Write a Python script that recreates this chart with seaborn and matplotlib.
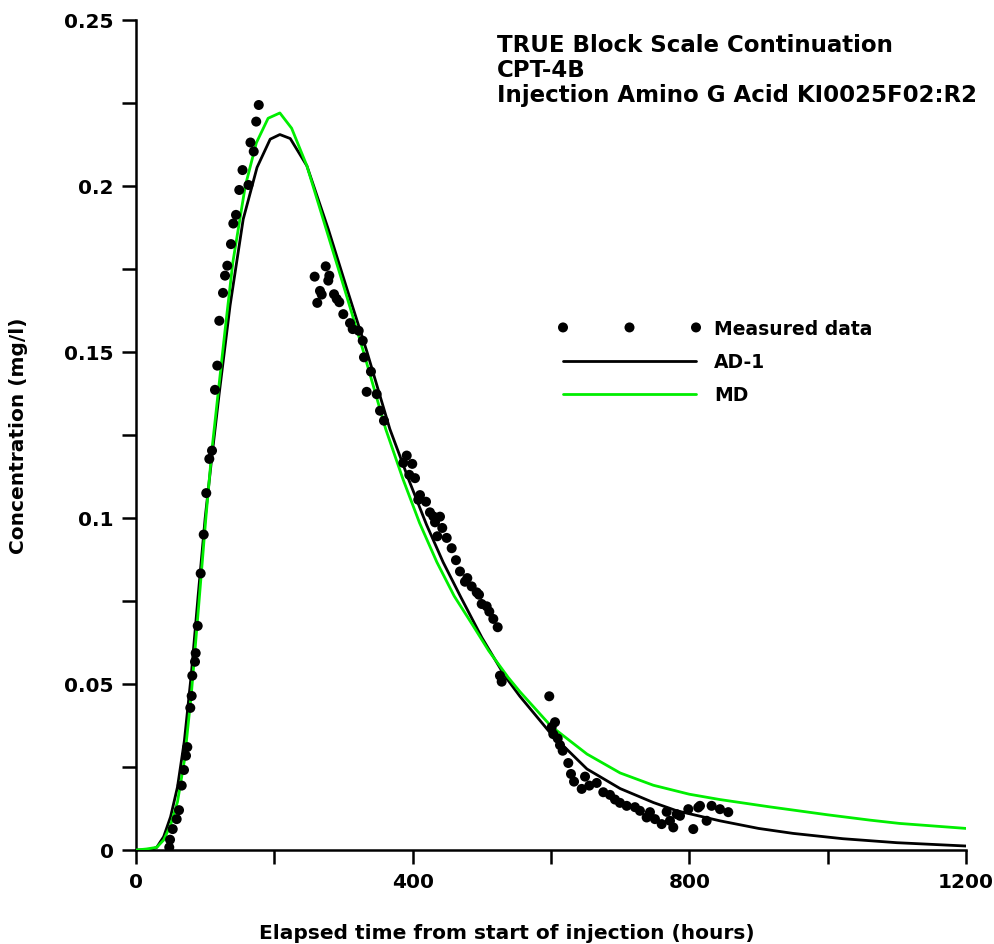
import numpy as np
import pandas as pd
import matplotlib
matplotlib.use("Agg")
import matplotlib.pyplot as plt
from matplotlib.legend_handler import HandlerPathCollection
import seaborn as sns

# ---- data ----
meas_time = [48.1, 49.2, 53.1, 58.8, 62.2, 66.1, 69.4, 72.3, 74.2, 78.5, 80.5, 81.4, 85.3, 86.3, 89.2,
             93.5, 97.9, 101.6, 106.0, 109.9, 114.2, 117.5, 120.4, 125.8, 128.7, 132.0, 137.3, 140.7,
             144.6, 149.3, 154.0, 162.6, 165.5, 170.2, 173.8, 177.5,
             258.3, 274.3, 279.5, 278.0, 266.0, 268.5, 262.1, 286.3, 290.2, 293.9, 299.7, 309.4, 313.3,
             322.0, 327.8, 329.6, 339.7, 333.5, 348.0, 352.8, 358.5,
             391.4, 386.4, 399.4, 395.1, 403.4, 410.6, 408.1, 419.3, 425.0, 429.8, 439.5, 432.3, 442.8,
             435.6, 449.2, 456.4, 462.6, 468.4, 479.0, 475.6, 485.3, 492.6, 495.9, 499.8, 507.0, 510.8,
             516.6, 522.9, 526.2, 528.7,
             597.5, 605.8, 601.0, 603.3, 609.7, 613.0, 616.9, 625.0, 628.9, 633.3, 649.2, 644.4, 655.4,
             666.1, 675.6, 685.3, 692.5, 699.7, 709.4, 721.4, 728.6, 738.3, 743.1, 750.3, 760.0, 767.2,
             772.0, 776.8, 781.7, 786.5, 798.5, 805.7, 812.9, 815.4, 825.0, 832.2, 844.3, 856.3]
meas_conc = [0.0008, 0.0031, 0.0063, 0.0093, 0.0120, 0.0194, 0.0241, 0.0284, 0.0310, 0.0428, 0.0464,
             0.0525, 0.0567, 0.0593, 0.0675, 0.0833, 0.0950, 0.1075, 0.1178, 0.1203, 0.1386, 0.1459,
             0.1594, 0.1678, 0.1730, 0.1760, 0.1825, 0.1887, 0.1913, 0.1988, 0.2048, 0.2003, 0.2131,
             0.2104, 0.2194, 0.2244,
             0.1727, 0.1758, 0.1730, 0.1715, 0.1684, 0.1673, 0.1648, 0.1674, 0.1660, 0.1650, 0.1614,
             0.1587, 0.1569, 0.1564, 0.1534, 0.1484, 0.1441, 0.1380, 0.1373, 0.1323, 0.1293,
             0.1188, 0.1166, 0.1163, 0.1130, 0.1120, 0.1069, 0.1055, 0.1049, 0.1017, 0.1005, 0.1004,
             0.0987, 0.0970, 0.0945, 0.0940, 0.0909, 0.0873, 0.0839, 0.0819, 0.0808, 0.0794, 0.0776,
             0.0769, 0.0741, 0.0734, 0.0718, 0.0696, 0.0671, 0.0525, 0.0507,
             0.0463, 0.0385, 0.0370, 0.0349, 0.0336, 0.0316, 0.0299, 0.0262, 0.0229, 0.0206, 0.0221,
             0.0184, 0.0194, 0.0202, 0.0174, 0.0166, 0.0152, 0.0142, 0.0133, 0.0129, 0.0118, 0.0098,
             0.0114, 0.0093, 0.0078, 0.0115, 0.0088, 0.0068, 0.0108, 0.0103, 0.0123, 0.0063, 0.0128,
             0.0133, 0.0088, 0.0133, 0.0123, 0.0114]

ad1_time = [0, 20, 30, 40, 50, 60, 70, 80, 90, 100, 110, 120, 136, 155, 175, 194, 208, 223, 247, 278,
            305, 334, 367, 394, 420, 444, 470, 500, 533, 555, 600, 652, 700, 748, 782, 844, 900, 950,
            1022, 1100, 1200]
ad1_conc = [0.0, 0.0, 0.0008, 0.004, 0.010, 0.019, 0.033, 0.053, 0.077, 0.100, 0.119, 0.137, 0.164,
            0.190, 0.2056, 0.2141, 0.2155, 0.2143, 0.2061, 0.187, 0.169, 0.150, 0.1268, 0.1117, 0.098,
            0.0867, 0.076, 0.064, 0.0525, 0.0463, 0.0350, 0.0244, 0.0185, 0.0143, 0.0118, 0.0088,
            0.0065, 0.0050, 0.0034, 0.0022, 0.0012]

md_time = [0, 15, 30, 40, 50, 60, 70, 80, 90, 101, 110, 120, 129, 140, 158, 174, 191, 208, 225, 247,
           275, 300, 329, 361, 386, 410, 435, 460, 486, 510, 538, 555, 600, 652, 700, 748, 800, 844,
           916, 1000, 1061, 1104, 1200]
md_conc = [0.0, 0.0003, 0.0008, 0.003, 0.0075, 0.0145, 0.027, 0.047, 0.072, 0.100, 0.121, 0.140,
           0.157, 0.177, 0.200, 0.213, 0.2204, 0.2220, 0.2174, 0.2061, 0.187, 0.170, 0.150, 0.1268,
           0.1117, 0.0985, 0.0867, 0.0765, 0.068, 0.060, 0.052, 0.0477, 0.0373, 0.0289, 0.0232,
           0.0195, 0.0168, 0.0152, 0.0130, 0.0106, 0.0090, 0.0080, 0.0065]

x_ticks = [0, 400, 800, 1200]
x_minor = [200, 600, 1000]
y_ticks = [0, 0.05, 0.1, 0.15, 0.2, 0.25]
y_tick_labels = ["0", "0.05", "0.1", "0.15", "0.2", "0.25"]
y_minor = [0.025, 0.075, 0.125, 0.175, 0.225]

title_lines = ["TRUE Block Scale Continuation", "CPT-4B", "Injection Amino G Acid KI0025F02:R2"]

# ---- style ----
sns.set_style("ticks")
plt.rcParams["font.family"] = ["DejaVu Sans"]
plt.rcParams["font.weight"] = "bold"
for k in ("text.color", "axes.labelcolor", "xtick.color", "ytick.color", "axes.edgecolor"):
    plt.rcParams[k] = "black"

FS_TICK = 14.5
FS_LAB = 14.5
FS_TITLE = 16.5
FS_LEG = 13.5

fig = plt.figure(figsize=(9.94, 9.45), dpi=100)
ax = fig.add_axes([136 / 994, 1 - 851 / 945, 830 / 994, 830 / 945])

meas = pd.DataFrame({"t": meas_time, "c": meas_conc})
ad1 = pd.DataFrame({"t": ad1_time, "c": ad1_conc})
md = pd.DataFrame({"t": md_time, "c": md_conc})

sns.lineplot(data=ad1, x="t", y="c", color="black", lw=2.0, estimator=None, sort=False,
             label="AD-1", ax=ax, zorder=2)
sns.lineplot(data=md, x="t", y="c", color="#00ee00", lw=2.0, estimator=None, sort=False,
             label="MD", ax=ax, zorder=3)
sns.scatterplot(data=meas, x="t", y="c", color="black", s=52, edgecolor="none", linewidth=0,
                label="Measured data", ax=ax, zorder=4)

ax.set_xlim(0, 1200)
ax.set_ylim(0, 0.25)
ax.set_xticks(x_ticks)
ax.set_xticks(x_minor, minor=True)
ax.set_xticklabels([str(v) for v in x_ticks])
ax.set_yticks(y_ticks)
ax.set_yticklabels(y_tick_labels)
ax.set_yticks(y_minor, minor=True)
for which in ("major", "minor"):
    ax.tick_params(axis="both", which=which, direction="out", length=10, width=1.8, color="black")
ax.tick_params(axis="both", which="major", labelsize=FS_TICK, pad=6)
for lab in ax.get_xticklabels() + ax.get_yticklabels():
    lab.set_fontweight("bold")

for s in ("top", "right"):
    ax.spines[s].set_visible(False)
for s in ("left", "bottom"):
    ax.spines[s].set_linewidth(1.8)
    ax.spines[s].set_color("black")

ax.set_xlabel("Elapsed time from start of injection (hours)", fontsize=FS_LAB, fontweight="bold")
ax.set_ylabel("Concentration (mg/l)", fontsize=FS_LAB, fontweight="bold")
ax.xaxis.set_label_coords((507 - 136) / 830, -(924 - 851) / 830)
ax.yaxis.set_label_coords(-(136 - 28) / 830, 0.5)

baselines = [52, 77, 102]
for line, yb in zip(title_lines, baselines):
    fig.text(497 / 994, 1 - yb / 945, line, fontsize=FS_TITLE, fontweight="bold",
             va="baseline", ha="left")

handles, labels = ax.get_legend_handles_labels()
order = [labels.index("Measured data"), labels.index("AD-1"), labels.index("MD")]
fs_px = FS_LEG * 100 / 72
leg = ax.legend([handles[i] for i in order], [labels[i] for i in order],
                frameon=False, loc="upper left",
                bbox_to_anchor=((563 - 136) / 830, (851 - 320) / 830),
                borderaxespad=0, borderpad=0, handlelength=133 / fs_px,
                handletextpad=18 / fs_px, labelspacing=0.75,
                handler_map={type(handles[order[0]]): HandlerPathCollection(
                    marker_pad=0, numpoints=3, yoffsets=[0.5, 0.5, 0.5])},
                prop={"size": FS_LEG, "weight": "bold"})

fig.savefig("out.png", dpi=100, facecolor="white")
